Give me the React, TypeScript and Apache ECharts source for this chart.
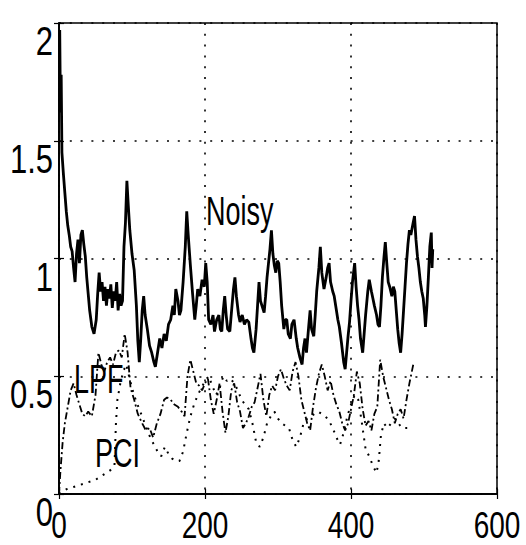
import React, { useEffect, useRef } from "react";
import * as echarts from "echarts";

// ---- data ----
const xTicks = [0, 200, 400, 600];
const yTicks = [0, 0.5, 1, 1.5, 2];

const noisyX = [1,2,3,4,6,8,10,12,14,16,18,20,22,24,26,28,30,32,34,36,38,40,42,45,48,51,53,55,57,59,61,63,65,67,69,71,73,75,77,79,81,83,85,87,89,91,93,95,97,100,103,106,108,110,112,114,116,118,121,124,127,130,132,135,138,141,144,147,150,153,156,158,160,163,165,167,170,173,175,177,180,183,186,188,190,193,196,199,201,203,205,208,211,213,216,219,221,223,225,227,229,231,234,237,239,241,243,246,248,251,254,257,260,263,265,267,270,272,274,276,278,281,283,285,287,289,291,293,295,297,299,301,303,305,308,310,312,314,317,319,322,325,327,330,333,335,337,339,342,344,346,349,351,353,356,358,360,363,366,368,370,372,375,377,380,382,384,387,390,392,394,396,398,400,402,405,407,409,411,413,416,418,420,423,425,428,430,432,435,437,439,441,443,445,447,449,451,453,456,458,460,462,464,466,468,470,472,474,476,478,480,482,485,487,489,491,493,495,497,499,501,502,504,506,508,510,511,512];
const noisyY = [1.97,1.62,1.78,1.45,1.36,1.28,1.2,1.14,1.1,1.05,1.03,0.96,0.9,1.02,1.08,0.98,1.1,1.12,1.06,1.01,0.92,0.85,0.78,0.71,0.68,0.74,0.85,0.94,0.86,0.9,0.82,0.88,0.8,0.87,0.83,0.89,0.79,0.86,0.82,0.9,0.78,0.85,0.8,0.82,1.05,1.15,1.33,1.22,1.12,1.02,0.95,0.8,0.65,0.56,0.66,0.78,0.84,0.76,0.7,0.63,0.6,0.56,0.54,0.6,0.66,0.62,0.68,0.65,0.72,0.74,0.8,0.76,0.87,0.82,0.76,0.78,0.9,1.05,1.2,1.1,0.97,0.85,0.74,0.8,0.87,0.84,0.91,0.88,0.98,0.9,0.74,0.72,0.76,0.69,0.74,0.76,0.7,0.69,0.78,0.84,0.76,0.7,0.69,0.8,0.87,0.92,0.84,0.76,0.73,0.76,0.72,0.74,0.73,0.66,0.62,0.6,0.7,0.8,0.9,0.82,0.8,0.77,0.84,0.92,0.98,1.04,1.12,1.02,0.97,0.94,0.99,0.98,0.9,0.8,0.7,0.74,0.74,0.68,0.66,0.72,0.74,0.66,0.62,0.58,0.55,0.62,0.66,0.6,0.71,0.78,0.7,0.67,0.76,0.86,0.96,1.05,0.94,0.87,0.92,0.96,0.98,0.9,0.86,0.84,0.78,0.74,0.71,0.64,0.56,0.53,0.6,0.67,0.73,0.82,0.9,0.98,0.88,0.8,0.74,0.66,0.6,0.68,0.76,0.86,0.91,0.86,0.83,0.8,0.76,0.72,0.71,0.8,0.92,1.0,1.07,0.98,0.9,0.88,0.84,0.88,0.86,0.78,0.7,0.64,0.6,0.68,0.78,0.88,0.98,1.06,1.12,1.1,1.15,1.18,1.08,1.01,0.96,0.9,0.86,0.83,0.76,0.71,0.8,0.92,1.05,1.11,0.96,1.04];

const lpfX = [0,2,5,8,12,16,20,24,28,32,36,40,45,50,54,58,62,66,70,74,78,82,86,90,94,98,103,108,114,119,124,129,134,139,144,148,153,158,163,168,172,176,180,184,188,192,196,200,204,208,212,216,220,224,228,232,236,240,244,248,252,256,260,264,268,272,276,280,284,288,292,296,300,304,308,312,316,320,324,328,332,336,340,344,348,352,356,360,364,368,372,376,380,384,388,392,396,400,404,408,412,416,420,424,428,432,436,440,444,448,452,456,460,464,468,472,476,480,484,486];
const lpfY = [0.0,0.1,0.22,0.3,0.37,0.44,0.47,0.42,0.38,0.34,0.33,0.35,0.33,0.42,0.6,0.55,0.52,0.56,0.58,0.55,0.6,0.61,0.58,0.68,0.6,0.45,0.4,0.34,0.3,0.27,0.28,0.24,0.3,0.34,0.4,0.41,0.4,0.38,0.37,0.35,0.33,0.5,0.57,0.52,0.47,0.46,0.44,0.47,0.49,0.4,0.34,0.4,0.47,0.35,0.26,0.33,0.44,0.47,0.39,0.35,0.28,0.3,0.33,0.37,0.39,0.45,0.51,0.4,0.33,0.42,0.46,0.44,0.5,0.53,0.49,0.46,0.44,0.52,0.56,0.5,0.4,0.35,0.3,0.27,0.37,0.45,0.51,0.55,0.5,0.44,0.48,0.42,0.38,0.35,0.3,0.27,0.3,0.36,0.42,0.52,0.47,0.36,0.29,0.31,0.27,0.34,0.37,0.57,0.5,0.45,0.4,0.36,0.3,0.34,0.36,0.32,0.4,0.47,0.53,0.56];

const pciX = [0,10,20,30,40,50,60,70,76,78,80,84,88,92,96,100,105,110,115,120,125,130,135,140,145,150,155,160,165,170,175,180,185,190,195,200,205,210,215,220,225,230,235,240,245,250,255,260,265,270,275,280,285,290,295,300,305,310,315,320,325,330,335,340,345,350,355,360,365,370,375,380,385,390,395,400,405,410,415,420,425,430,435,438,441,445,450,455,460,465,470,477];
const pciY = [0.0,0.02,0.03,0.04,0.05,0.06,0.08,0.1,0.12,0.3,0.4,0.47,0.52,0.55,0.5,0.45,0.4,0.36,0.32,0.28,0.24,0.21,0.18,0.16,0.2,0.17,0.15,0.14,0.14,0.18,0.26,0.33,0.38,0.42,0.45,0.48,0.5,0.46,0.42,0.45,0.5,0.48,0.49,0.47,0.44,0.4,0.38,0.36,0.3,0.22,0.2,0.24,0.3,0.33,0.35,0.32,0.3,0.29,0.28,0.23,0.2,0.24,0.3,0.32,0.33,0.34,0.35,0.34,0.33,0.31,0.28,0.24,0.21,0.26,0.33,0.38,0.42,0.4,0.3,0.19,0.16,0.12,0.09,0.14,0.25,0.3,0.28,0.3,0.32,0.3,0.28,0.28];

const seriesLabels = ["Noisy", "LPF", "PCI"];

const zip = (xs: number[], ys: number[]) => xs.map((x, i) => [x, ys[i]]);

const FONT = "'Liberation Sans', Arial, Helvetica, sans-serif";

export default function App() {
  const ref = useRef<HTMLDivElement>(null);
  useEffect(() => {
    if (!ref.current) return;
    const chart = echarts.init(ref.current, null, { renderer: "svg" });
    const dotted = { type: [2, 8.8] as any, color: "#000", width: 1.6 };
    const axisBase = {
      axisLine: { show: true, lineStyle: { color: "#000", width: 1.5 } },
      axisTick: { show: true, inside: true, length: 5, lineStyle: { color: "#000", width: 1.2 } },
    };
    chart.setOption({
      animation: false,
      backgroundColor: "#fff",
      grid: { left: 59, top: 23, width: 438, height: 471, show: true, borderColor: "#000", borderWidth: 1.5 },
      xAxis: [
        {
          type: "value", min: 0, max: 600, interval: 200,
          ...axisBase,
          splitLine: { show: true, lineStyle: dotted },
          axisLabel: { show: false },
        },
        {
          type: "value", min: 0, max: 600, interval: 200, position: "top",
          ...axisBase, splitLine: { show: false }, axisLabel: { show: false },
        },
      ],
      yAxis: [
        {
          type: "value", min: 0, max: 2, interval: 0.5,
          ...axisBase,
          splitLine: { show: true, lineStyle: dotted },
          axisLabel: { show: false },
        },
        {
          type: "value", min: 0, max: 2, interval: 0.5, position: "right",
          ...axisBase, splitLine: { show: false }, axisLabel: { show: false },
        },
      ],
      series: [
        {
          name: seriesLabels[0], type: "line", data: zip(noisyX, noisyY), showSymbol: false,
          lineStyle: { color: "#000", width: 2.8 }, z: 5,
        },
        {
          name: seriesLabels[1], type: "line", data: zip(lpfX, lpfY), showSymbol: false,
          lineStyle: { color: "#000", width: 1.8, type: [7, 3, 2, 3] as any }, z: 4,
        },
        {
          name: seriesLabels[2], type: "line", data: zip(pciX, pciY), showSymbol: false,
          lineStyle: { color: "#000", width: 2, type: [2, 6] as any }, z: 3,
        },
      ],
    });

    // Tick labels placed through the axes' own scales (stretched Helvetica look)
    const gridBottom = chart.convertToPixel({ yAxisIndex: 0 }, 0) as number;
    const gridLeft = chart.convertToPixel({ xAxisIndex: 0 }, 0) as number;
    const tickTexts: any[] = [];
    xTicks.forEach((v, i) => {
      tickTexts.push({
        type: "text", id: "xt" + i, x: chart.convertToPixel({ xAxisIndex: 0 }, v) as number,
        y: gridBottom + 12, scaleY: 1.35, z: 10,
        style: { text: String(v), font: "28px " + FONT, fill: "#000", textAlign: "center", textBaseline: "top" },
      });
    });
    yTicks.forEach((v, i) => {
      tickTexts.push({
        type: "text", id: "yt" + i, x: gridLeft - 6,
        y: (chart.convertToPixel({ yAxisIndex: 0 }, v) as number) - 2, scaleY: 1.3, z: 10,
        style: { text: String(v), font: "31px " + FONT, fill: "#000", textAlign: "right", textBaseline: "middle" },
      });
    });
    const lbl = (id: string, text: string, x: number, y: number) => ({
      type: "text", id, x, y, scaleY: 1.5, z: 10,
      style: { text, font: "27px " + FONT, fill: "#000", textBaseline: "top" },
    });
    chart.setOption({
      graphic: [
        ...tickTexts,
        lbl("l0", seriesLabels[0], 206, 191),
        lbl("l1", seriesLabels[1], 74, 359),
        lbl("l2", seriesLabels[2], 95, 433),
      ],
    });
    return () => chart.dispose();
  }, []);
  return (
    <div ref={ref} style={{ position: "fixed", left: 0, top: 0, width: 526, height: 545, background: "#fff" }} />
  );
}
